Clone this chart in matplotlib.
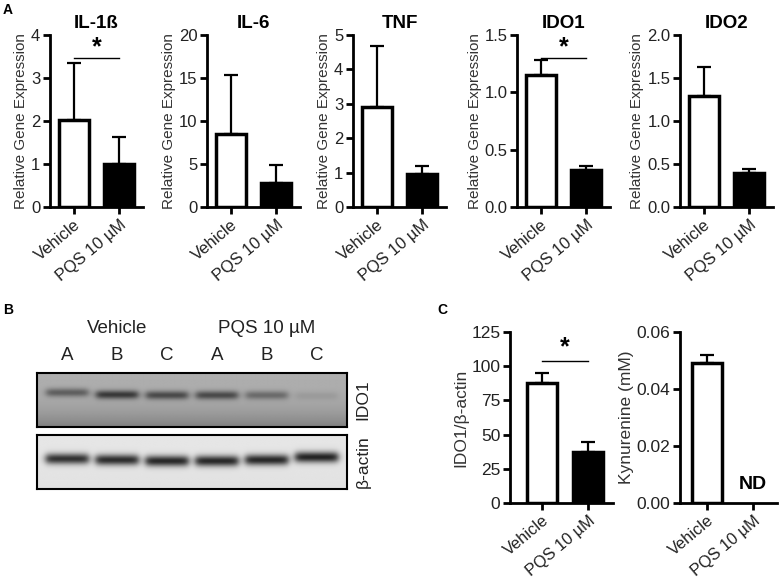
import numpy as np
import matplotlib.pyplot as plt
from matplotlib.ticker import FormatStrFormatter

plt.rcParams['font.family'] = ['Liberation Sans', 'DejaVu Sans']

# ---- data ----
groups = ['Vehicle', 'PQS 10 µM']
genes = ['IL-1ß', 'IL-6', 'TNF', 'IDO1', 'IDO2']
gene_mean = [[2.03, 1.00], [8.5, 2.8], [2.92, 0.95], [1.15, 0.32], [1.29, 0.40]]
gene_err = [[1.32, 0.63], [6.8, 2.1], [1.75, 0.23], [0.13, 0.04], [0.34, 0.04]]
gene_ymax = [4, 20, 5, 1.5, 2.0]
gene_ystep = [1, 5, 1, 0.5, 0.5]
gene_fmt = ['%d', '%d', '%d', '%.1f', '%.1f']
gene_sig = [True, False, False, True, False]

lanes = ['A', 'B', 'C', 'A', 'B', 'C']
ido1_band = [0.30, 0.45, 0.38, 0.38, 0.25, 0.06]
actin_band = [0.70, 0.72, 0.74, 0.74, 0.74, 0.76]

ratio_mean = [88, 37]
ratio_err = [7, 7.5]
kyn_mean = [0.049, 0.0]
kyn_err = [0.003, 0.0]

W, H = 779, 580
fig = plt.figure(figsize=(W / 100, H / 100), dpi=100)


def px_axes(l, t, r, b):
    return fig.add_axes([l / W, 1 - b / H, (r - l) / W, (b - t) / H])


def bar_panel(ax, mean, err, ymax, ystep, fmt, xlim, ylabel, fs=12, lfs=11, xfs=12):
    x = np.arange(len(mean))
    for i in x:
        if mean[i] > 0:
            ax.bar(i, mean[i], width=0.65, color=['white', 'black'][i],
                   edgecolor='black', linewidth=2.5, zorder=2)
        if err[i] > 0:
            ax.errorbar(i, mean[i], yerr=[[0], [err[i]]], fmt='none', ecolor='black',
                        elinewidth=1.6, capsize=5, capthick=1.6, zorder=1)
    ax.set_xlim(*xlim)
    ax.set_ylim(0, ymax)
    ax.set_yticks(np.arange(0, ymax + ystep / 2, ystep))
    ax.yaxis.set_major_formatter(FormatStrFormatter(fmt))
    ax.set_xticks(x)
    ax.set_xticklabels(groups, rotation=40, ha='right', rotation_mode='anchor',
                       fontsize=xfs, color='#222222')
    for s in ['top', 'right']:
        ax.spines[s].set_visible(False)
    for s in ['left', 'bottom']:
        ax.spines[s].set_linewidth(2)
    ax.tick_params(axis='y', labelsize=fs)
    ax.tick_params(direction='out', length=5, width=2, labelcolor='#222222', pad=2)
    ax.set_ylabel(ylabel, fontsize=lfs, color='#333333', labelpad=2)


def sig_mark(ax, y_line, y_star):
    ax.plot([0, 1], [y_line, y_line], color='black', lw=1, clip_on=False)
    ax.text(0.5, y_star, '*', ha='center', va='center', fontsize=18,
            fontweight='bold', clip_on=False)


# ---- panel A ----
lefts = [50, 207, 353, 517, 680]
for k, g in enumerate(genes):
    ax = px_axes(lefts[k], 35, lefts[k] + 93, 207)
    bar_panel(ax, gene_mean[k], gene_err[k], gene_ymax[k], gene_ystep[k],
              gene_fmt[k], (-0.52, 1.52), 'Relative Gene Expression')
    ax.set_title(g, fontweight='bold', fontsize=13.5, pad=5)
    if gene_sig[k]:
        sig_mark(ax, gene_ymax[k] * 0.867, gene_ymax[k] * 0.93)

fig.text(8 / W, 1 - 10 / H, 'A', fontweight='bold', fontsize=10, ha='center', va='center')
fig.text(8 / W, 1 - 310 / H, 'B', fontweight='bold', fontsize=10, ha='center', va='center')
fig.text(442 / W, 1 - 310 / H, 'C', fontweight='bold', fontsize=10, ha='center', va='center')

# ---- panel B: western blot ----
xs = np.linspace(-0.6, 5.6, 400)
ys = np.linspace(0, 1, 90)
X, Y = np.meshgrid(xs, ys)


def blot_image(bg_top, bg_bot, amps, yc, sig, hw):
    img = bg_top + (bg_bot - bg_top) * Y ** 3
    for i, a in enumerate(amps):
        lane = 1 / (1 + np.exp((np.abs(X - i) - hw) / 0.04))
        img = img - a * lane * np.exp(-((Y - yc[i]) / sig) ** 2)
    return np.clip(img, 0, 1)


ax_ido = px_axes(37, 373, 347, 427)
ax_ido.imshow(blot_image(0.68, 0.50, ido1_band, [0.36, 0.40, 0.41, 0.41, 0.41, 0.42], 0.08, 0.42),
              cmap='gray', vmin=0, vmax=1, extent=[-0.6, 5.6, 1, 0], aspect='auto')
ax_act = px_axes(37, 435, 347, 489)
ax_act.imshow(blot_image(0.90, 0.88, actin_band, [0.45, 0.47, 0.49, 0.49, 0.47, 0.42], 0.10, 0.43),
              cmap='gray', vmin=0, vmax=1, extent=[-0.6, 5.6, 1, 0], aspect='auto')
for ax, name in [(ax_ido, 'IDO1'), (ax_act, 'β-actin')]:
    ax.set_xticks([])
    ax.set_yticks([])
    for s in ax.spines.values():
        s.set_linewidth(1.5)
    ax.text(1.052, 0.5, name, transform=ax.transAxes, rotation=90, ha='center',
            va='center', fontsize=12.5, color='#222222')

tr = ax_ido.get_xaxis_transform()
for i, lab in enumerate(lanes):
    ax_ido.text(i, 1.33, lab, transform=tr, ha='center', va='center', fontsize=13.5,
                color='#222222')
ax_ido.text(1, 1.83, groups[0], transform=tr, ha='center', va='center', fontsize=13.5,
            color='#222222')
ax_ido.text(4, 1.83, groups[1], transform=tr, ha='center', va='center', fontsize=13.5,
            color='#222222')

# ---- panel C ----
ax_c1 = px_axes(510, 332, 613, 503)
bar_panel(ax_c1, ratio_mean, ratio_err, 125, 25, '%d', (-0.70, 1.54), 'IDO1/β-actin',
          fs=12.5, lfs=12.5, xfs=11.8)
sig_mark(ax_c1, 104, 114)

ax_c2 = px_axes(680, 332, 777, 503)
bar_panel(ax_c2, kyn_mean, kyn_err, 0.06, 0.02, '%.2f', (-0.59, 1.52), 'Kynurenine (mM)',
          fs=12.5, lfs=12.5, xfs=11.8)
ax_c2.text(1, 0.0065, 'ND', ha='center', va='center', fontsize=14, fontweight='bold')

fig.savefig('out.png', dpi=100)
